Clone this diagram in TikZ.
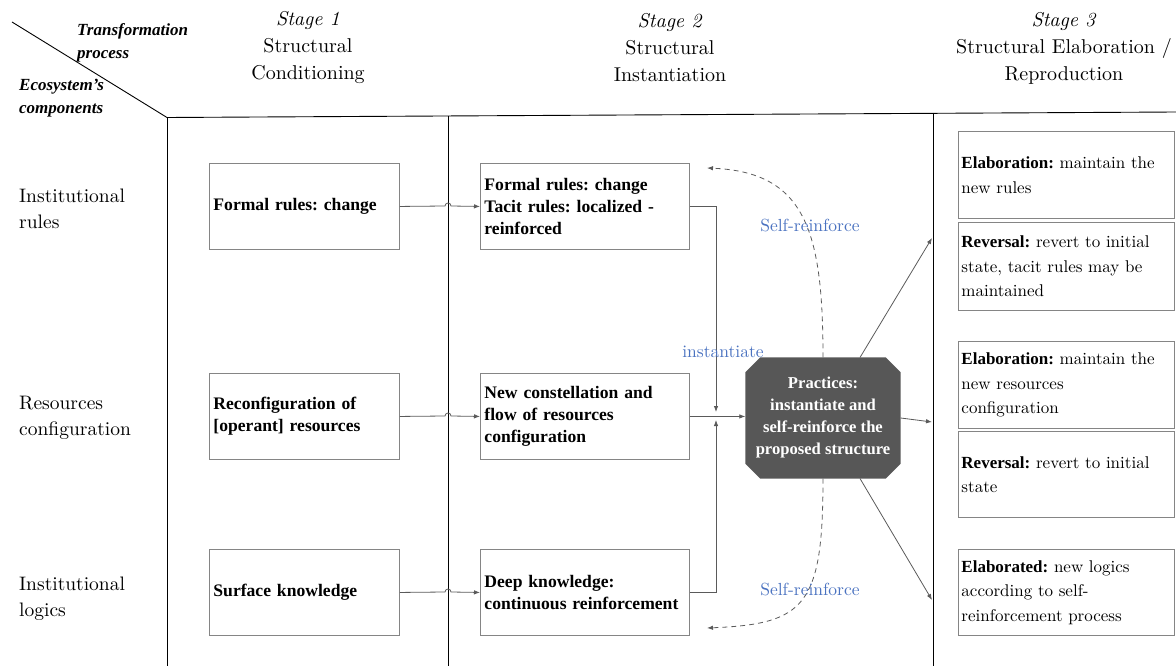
\documentclass[tikz,border=0pt]{standalone}
\usepackage{fontspec}
\setmainfont{lmroman10}[Extension=.otf,UprightFont=*-regular,BoldFont=*-bold,ItalicFont=*-italic,BoldItalicFont=*-bolditalic]
\newfontfamily\bfam{Liberation Serif}
\newcommand{\bx}[1]{{\bfam\bfseries #1}}
\usetikzlibrary{arrows.meta,calc}
\pgfdeclarelayer{bg}
\pgfsetlayers{bg,main}
\definecolor{boxgray}{HTML}{858585}
\definecolor{congray}{HTML}{5A5A5A}
\definecolor{octfill}{HTML}{575757}
\definecolor{lblblue}{HTML}{4A72C0}
\begin{document}
\frenchspacing
\begin{tikzpicture}[x=1pt,y=-1pt,
  gridline/.style={line width=0.9pt,black},
  basebox/.style={draw=boxgray,line width=0.9pt,rectangle,align=left,anchor=north west,inner ysep=2pt},
  sonebox/.style={basebox,text width=182pt,inner xsep=4pt,font=\fontsize{17.6}{22}\selectfont\bfam\bfseries},
  stwobox/.style={basebox,text width=201pt,inner xsep=4pt,font=\fontsize{17.6}{22}\selectfont\bfam\bfseries},
  sthreebox/.style={basebox,text width=210pt,inner xsep=3pt,font=\fontsize{17}{24.5}\selectfont},
  hdr/.style={align=center,font=\fontsize{20}{27}\selectfont},
  rowlab/.style={align=left,anchor=west,inner sep=0pt,font=\fontsize{19.5}{26}\selectfont},
  corner/.style={align=left,anchor=west,inner sep=0pt,font=\fontsize{17}{23}\selectfont\bfam\bfseries\itshape},
  conn/.style={draw=congray,line width=0.8pt,-{Latex[length=6pt,width=4.5pt]}},
  dashconn/.style={draw=congray,line width=0.8pt,dash pattern=on 5pt off 4pt,-{Latex[length=6pt,width=4.5pt]}},
  bluelbl/.style={text=lblblue,font=\fontsize{17.5}{20}\selectfont,inner sep=1pt}
]
\useasboundingbox (0,0) rectangle (1176,666);

% grid
\coordinate (dstart) at (12,22);
\coordinate (tl) at (167,117.5);
\coordinate (tr) at (1176,112);
\coordinate (v1t) at (448,116);
\coordinate (v2t) at (933,113);
\draw[gridline] (dstart) -- (tl) -- (tr);
\draw[gridline] (tl) -- (167,666);
\draw[gridline] (v1t) -- (448,666);
\draw[gridline] (v2t) -- (933,666);

% headers
\node[hdr] (h1) at (308,48) {\textit{Stage 1}\\Structural\\Conditioning};
\node[hdr] (h2) at (670,48) {\textit{Stage 2}\\Structural\\Instantiation};
\node[hdr] (h3) at (1064,48) {\textit{Stage 3}\\Structural Elaboration /\\Reproduction};

% corner labels
\node[corner] (tp) at (77,43) {Transformation\\process};
\node[corner] (ec) at (19,98) {Ecosystem’s\\components};

% row labels
\node[rowlab] (r1) at (19,209) {Institutional\\rules};
\node[rowlab] (r2) at (19,418) {Resources\\configuration};
\node[rowlab] (r3) at (19,599) {Institutional\\logics};

% stage 1 boxes
\node[sonebox,minimum height=86pt] (a1) at (209,163) {Formal rules: change};
\node[sonebox,minimum height=86pt] (a2) at (209,373) {Reconfiguration of\\{}[operant] resources};
\node[sonebox,minimum height=86pt] (a3) at (209,549) {Surface knowledge};

% stage 2 boxes
\node[stwobox,minimum height=86pt] (b1) at (480,163) {Formal rules: change\\Tacit rules: localized -\\reinforced};
\node[stwobox,minimum height=86pt] (b2) at (480,373) {New constellation and\\flow of resources\\configuration};
\node[stwobox,minimum height=86pt] (b3) at (480,549) {Deep knowledge:\\continuous reinforcement};

% stage 3 boxes
\node[sthreebox,minimum height=87pt] (c1) at (958,131) {\bx{Elaboration:} maintain the\\new rules};
\node[sthreebox,minimum height=88pt] (c2) at (958,222) {\bx{Reversal:} revert to initial\\state, tacit rules may be\\maintained};
\node[sthreebox,minimum height=87pt] (c3) at (958,341) {\bx{Elaboration:} maintain the\\new resources\\configuration};
\node[sthreebox,minimum height=86pt] (c4) at (958,431) {\bx{Reversal:} revert to initial\\state};
\node[sthreebox,minimum height=86pt] (c5) at (958,549) {\bx{Elaborated:} new logics\\according to self-\\reinforcement process};

% practices octagon
\node[rectangle,minimum width=155pt,minimum height=121pt,inner sep=0pt,
      text=white,align=center,font=\fontsize{16.6}{22}\selectfont\bfam\bfseries] (pr) at (823,418)
      {Practices:\\instantiate and\\self-reinforce the\\proposed structure};
\begin{pgfonlayer}{bg}
\fill[octfill] ($(pr.north west)+(15,0)$) -- ($(pr.north east)+(-15,0)$) -- ($(pr.north east)+(0,15)$)
  -- ($(pr.south east)+(0,-15)$) -- ($(pr.south east)+(-15,0)$) -- ($(pr.south west)+(15,0)$)
  -- ($(pr.south west)+(0,-15)$) -- ($(pr.north west)+(0,15)$) -- cycle;
\end{pgfonlayer}

% stage1 -> stage2 with hops
\draw[conn] (a1.east) -- (445,206) arc[start angle=180,end angle=360,radius=3] -- (b1.west);
\draw[conn] (a2.east) -- (445,416) arc[start angle=180,end angle=360,radius=3] -- (b2.west);
\draw[conn] (a3.east) -- (445,592) arc[start angle=180,end angle=360,radius=3] -- (b3.west);

% junction connectors
\coordinate (jtop) at (716,412);
\coordinate (jbot) at (716,420);
\draw[conn] (b1.east) -| (jtop);
\draw[conn] (b3.east) -| (jbot);
\draw[conn] (b2.east) -- (pr.west |- b2.east);

% outputs to stage 3
\coordinate (omid) at (932,422);
\coordinate (otop) at (932,238);
\coordinate (obot) at (932,600);
\coordinate (prtr) at (860,357.5);
\coordinate (prbr) at (860,478.5);
\draw[conn] (pr.east) -- (omid);
\draw[conn] (prtr) -- (otop);
\draw[conn] (prbr) -- (obot);

% self-reinforce dashed loops
\coordinate (lt) at (707,168);
\coordinate (lb) at (707,628);
\draw[dashconn] (pr.north) .. controls (823,230) and (805,172) .. (lt);
\draw[dashconn] (pr.south) .. controls (823,606) and (805,624) .. (lb);

% labels
\node[bluelbl] (sr1) at (810,226) {Self-reinforce};
\node[bluelbl] (sr2) at (810,590) {Self-reinforce};
\node[bluelbl] (inst) at (723,352) {instantiate};
\end{tikzpicture}
\end{document}
